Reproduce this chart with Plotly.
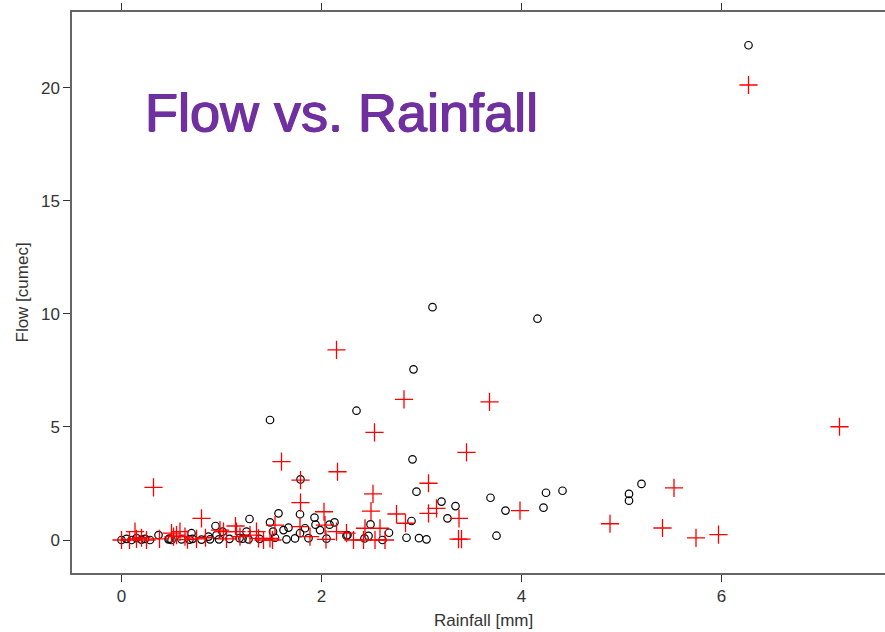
import plotly.graph_objects as go

# Observed flow (black circles)
rain_obs = [0.0, 0.05, 0.10, 0.15, 0.20, 0.235, 0.285, 0.37, 0.47, 0.48, 0.50, 0.60, 0.68, 0.70, 0.71,
            0.80, 0.87, 0.885, 0.94, 0.95, 0.975, 1.01, 1.08, 1.18, 1.21, 1.25, 1.27, 1.28, 1.38, 1.485,
            1.515, 1.535, 1.57, 1.62, 1.65, 1.67, 1.735, 1.785, 1.79, 1.785, 1.835, 1.87, 1.93, 1.94,
            1.985, 2.05, 2.08, 2.13, 2.25, 2.26, 1.485, 2.35, 2.43, 2.47, 2.49, 2.61, 2.675, 2.85, 2.90,
            2.91, 2.92, 2.95, 2.975, 3.05, 3.11, 3.20, 3.26, 3.34, 3.69, 3.75, 3.84, 4.16, 4.22, 4.245,
            4.41, 5.075, 5.075, 5.20, 6.27]
flow_obs = [0.0, 0.05, 0.0, 0.08, 0.02, 0.05, 0.0, 0.22, 0.03, 0.06, 0.0, 0.03, 0.02, 0.30, 0.05,
            0.02, 0.15, 0.03, 0.62, 0.22, 0.03, 0.37, 0.05, 0.08, 0.06, 0.37, 0.03, 0.93, 0.05, 0.78,
            0.37, 0.10, 1.18, 0.44, 0.03, 0.55, 0.07, 1.14, 2.68, 0.30, 0.52, 0.08, 0.99, 0.68,
            0.44, 0.06, 0.68, 0.78, 0.19, 0.22, 5.31, 5.72, 0.07, 0.18, 0.69, 0.0, 0.32, 0.10, 0.84,
            3.57, 7.55, 2.14, 0.08, 0.03, 10.30, 1.70, 0.96, 1.50, 1.87, 0.19, 1.30, 9.79, 1.43, 2.09,
            2.18, 2.04, 1.74, 2.48, 21.89]

# Modelled flow (red crosses)
rain_mod = [0.0, 0.08, 0.135, 0.15, 0.20, 0.25, 0.32, 0.38, 0.50, 0.52, 0.55, 0.585, 0.635, 0.66, 0.75,
            0.80, 0.84, 0.985, 1.02, 1.05, 1.14, 1.15, 1.185, 1.285, 1.35, 1.37, 1.42, 1.485, 1.51,
            1.535, 1.60, 1.79, 1.79, 1.785, 1.885, 2.025, 2.035, 2.045, 2.15, 2.16, 2.15, 2.25, 2.32,
            2.42, 2.435, 2.495, 2.515, 2.53, 2.535, 2.585, 2.635, 2.75, 2.825, 2.84, 3.07, 3.07, 3.15,
            3.37, 3.375, 3.40, 3.45, 3.68, 3.985, 4.885, 5.41, 5.525, 5.745, 5.97, 6.27, 7.18]
flow_mod = [0.0, 0.0, 0.37, 0.05, 0.10, 0.0, 2.33, 0.05, 0.30, 0.15, 0.22, 0.37, 0.15, 0.02, 0.05,
            0.96, 0.10, 0.44, 0.37, 0.05, 0.62, 0.37, 0.15, 0.22, 0.37, 0.07, 0.0, 0.07, 0.0,
            0.66, 3.47, 2.65, 1.65, 0.59, 0.15, 1.25, 0.66, 0.03, 8.41, 3.02, 0.37, 0.30, 0.0,
            0.0, 0.52, 1.28, 2.04, 4.76, 0.0, 0.52, 0.0, 1.15, 6.22, 0.74, 2.51, 1.18, 1.40,
            0.04, 0.96, 0.04, 3.88, 6.11, 1.30, 0.72, 0.53, 2.31, 0.09, 0.24, 20.13, 5.01]

x_ticks = [0, 2, 4, 6]
y_ticks = [0, 5, 10, 15, 20]

fig = go.Figure()
fig.add_trace(go.Scatter(x=rain_obs, y=flow_obs, mode="markers",
                         marker=dict(symbol="circle-open", size=7.5, color="black",
                                     line=dict(width=1.2, color="black")),
                         showlegend=False))
fig.add_trace(go.Scatter(x=rain_mod, y=flow_mod, mode="markers",
                         marker=dict(symbol="cross-thin-open", size=13, color="red",
                                     line=dict(width=1.3, color="red")),
                         showlegend=False))

axis_font = dict(family="Arial, Liberation Sans, sans-serif", size=17, color="#333333")

fig.update_layout(
    width=885, height=632,
    margin=dict(l=72, r=0, t=12, b=59),
    paper_bgcolor="white", plot_bgcolor="white",
    font=axis_font,
    xaxis=dict(range=[-0.495, 7.635], tickvals=x_ticks, ticks="outside", ticklen=7,
               tickcolor="#333333", tickwidth=1, showline=True, linecolor="#666666",
               linewidth=1.5, mirror="ticks", showgrid=False, zeroline=False,
               tickfont=axis_font),
    yaxis=dict(range=[-1.46, 23.36], tickvals=y_ticks, ticks="outside", ticklen=7,
               tickcolor="#333333", tickwidth=1, showline=True, linecolor="#666666",
               linewidth=1.5, showgrid=False, zeroline=False,
               tickfont=axis_font),
    annotations=[
        dict(text="Flow vs. Rainfall", xref="paper", yref="paper",
             x=0.3315, y=0.8217, xanchor="center", yanchor="middle", showarrow=False,
             font=dict(family="Arial, Liberation Sans, sans-serif", size=54, color="#7030A0",
                       shadow="0.7px 0 0 #7030A0, -0.7px 0 0 #7030A0, 0 0.7px 0 #7030A0")),
        dict(text="Rainfall [mm]", xref="paper", yref="paper",
             x=(483 - 72) / 813, y=(573 - 620) / 561, xanchor="center", yanchor="middle",
             showarrow=False, font=axis_font),
        dict(text="Flow [cumec]", xref="paper", yref="paper", textangle=-90,
             x=(22 - 72) / 813, y=0.5, xanchor="center", yanchor="middle",
             showarrow=False, font=axis_font),
    ],
)

fig.write_html("out.html")
